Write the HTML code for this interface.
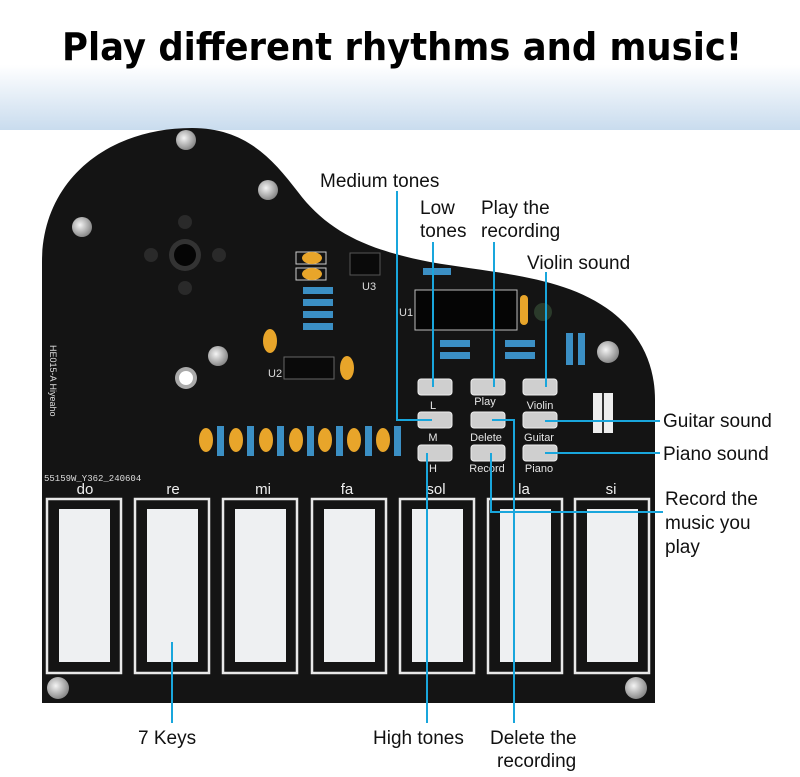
<!DOCTYPE html>
<html><head><meta charset="utf-8"><style>
html,body{margin:0;padding:0;}
body{width:800px;height:772px;overflow:hidden;background:#fff;font-family:"Liberation Sans",sans-serif;}
</style></head><body>
<svg width="800" height="772" viewBox="0 0 800 772" xmlns="http://www.w3.org/2000/svg" font-family="Liberation Sans, sans-serif">
<defs>
<linearGradient id="hg" x1="0" y1="0" x2="0" y2="1">
<stop offset="0" stop-color="#ffffff"/><stop offset="0.5" stop-color="#ffffff"/><stop offset="1" stop-color="#c9dcee"/>
</linearGradient>
<radialGradient id="scr" cx="0.4" cy="0.4" r="0.6"><stop offset="0" stop-color="#f4f4f4"/><stop offset="1" stop-color="#8a8a8a"/></radialGradient>
</defs>
<rect x="0" y="0" width="800" height="130" fill="url(#hg)"/>
<text x="62" y="60" textLength="680" lengthAdjust="spacingAndGlyphs" font-size="38" font-weight="bold" fill="#000" font-family="DejaVu Sans, sans-serif">Play different rhythms and music!</text>

<!-- board -->
<path d="M42,703 L42,262 C42,180 108,128 192,128 C245,128 272,158 298,192 C328,232 368,250 430,262 C500,274 565,276 612,312 C645,338 655,370 655,400 L655,703 Z" fill="#141414"/>

<!-- speaker -->
<circle cx="185" cy="255" r="16" fill="#333"/><circle cx="185" cy="255" r="11" fill="#050505"/>
<circle cx="185" cy="222" r="7" fill="#2a2a2a"/><circle cx="185" cy="288" r="7" fill="#2a2a2a"/>
<circle cx="151" cy="255" r="7" fill="#2a2a2a"/><circle cx="219" cy="255" r="7" fill="#2a2a2a"/>
<circle cx="186" cy="378" r="11" fill="#aaa"/><circle cx="186" cy="378" r="7" fill="#fff"/>

<!-- screws -->
<g fill="url(#scr)">
<circle cx="186" cy="140" r="10"/><circle cx="268" cy="190" r="10"/><circle cx="82" cy="227" r="10"/>
<circle cx="218" cy="356" r="10"/><circle cx="608" cy="352" r="11"/><circle cx="58" cy="688" r="11"/><circle cx="636" cy="688" r="11"/>
</g>

<text x="50" y="345" font-size="9" fill="#ddd" transform="rotate(90 50 345)" >HE015-A Hiyeaho</text>
<text x="44" y="481" font-size="9" fill="#ddd" font-family="Liberation Mono, monospace">55159W_Y362_240604</text>

<!-- U3 -->
<rect x="350" y="253" width="30" height="22" fill="#0a0a0a" stroke="#555"/>
<text x="362" y="290" font-size="11" fill="#ddd">U3</text>
<rect x="296" y="252" width="30" height="12" fill="none" stroke="#ccc"/><rect x="296" y="268" width="30" height="12" fill="none" stroke="#ccc"/>
<ellipse cx="312" cy="258" rx="10" ry="6" fill="#e8a52a"/><ellipse cx="312" cy="274" rx="10" ry="6" fill="#e8a52a"/>
<g fill="#3b8fc4"><rect x="303" y="287" width="30" height="7"/><rect x="303" y="299" width="30" height="7"/><rect x="303" y="311" width="30" height="7"/><rect x="303" y="323" width="30" height="7"/></g>
<ellipse cx="270" cy="341" rx="7" ry="12" fill="#e8a52a"/><ellipse cx="347" cy="368" rx="7" ry="12" fill="#e8a52a"/>
<rect x="284" y="357" width="50" height="22" fill="#0a0a0a" stroke="#666"/>
<text x="268" y="377" font-size="11" fill="#ddd">U2</text>
<g>
<g fill="#e8a52a"><ellipse cx="206" cy="440" rx="7" ry="12"/><ellipse cx="236" cy="440" rx="7" ry="12"/><ellipse cx="266" cy="440" rx="7" ry="12"/><ellipse cx="296" cy="440" rx="7" ry="12"/><ellipse cx="325" cy="440" rx="7" ry="12"/><ellipse cx="354" cy="440" rx="7" ry="12"/><ellipse cx="383" cy="440" rx="7" ry="12"/></g>
<g fill="#3b8fc4"><rect x="217" y="426" width="7" height="30"/><rect x="247" y="426" width="7" height="30"/><rect x="277" y="426" width="7" height="30"/><rect x="307" y="426" width="7" height="30"/><rect x="336" y="426" width="7" height="30"/><rect x="365" y="426" width="7" height="30"/><rect x="394" y="426" width="7" height="30"/></g>
</g>
<rect x="415" y="290" width="102" height="40" fill="#050505" stroke="#bbb"/>
<text x="399" y="316" font-size="11" fill="#ddd">U1</text>
<rect x="520" y="295" width="8" height="30" fill="#e8a52a" rx="4"/>
<circle cx="543" cy="312" r="9" fill="#2b3b2b"/>
<g fill="#3b8fc4"><rect x="423" y="268" width="28" height="7"/><rect x="440" y="340" width="30" height="7"/><rect x="440" y="352" width="30" height="7"/><rect x="505" y="340" width="30" height="7"/><rect x="505" y="352" width="30" height="7"/><rect x="566" y="333" width="7" height="32"/><rect x="578" y="333" width="7" height="32"/></g>
<rect x="593" y="393" width="20" height="40" fill="#eee"/><line x1="603" y1="393" x2="603" y2="433" stroke="#333" stroke-width="2"/>

<!-- buttons -->
<g fill="#cfcfcf" stroke="#eee" stroke-width="1">
<rect x="418" y="379" width="34" height="16" rx="3"/><rect x="471" y="379" width="34" height="16" rx="3"/><rect x="523" y="379" width="34" height="16" rx="3"/>
<rect x="418" y="412" width="34" height="16" rx="3"/><rect x="471" y="412" width="34" height="16" rx="3"/><rect x="523" y="412" width="34" height="16" rx="3"/>
<rect x="418" y="445" width="34" height="16" rx="3"/><rect x="471" y="445" width="34" height="16" rx="3"/><rect x="523" y="445" width="34" height="16" rx="3"/>
</g>
<g font-size="11" fill="#e6e6e6" text-anchor="middle">
<text x="433" y="409">L</text><text x="485" y="405">Play</text><text x="540" y="409">Violin</text>
<text x="433" y="441">M</text><text x="486" y="441">Delete</text><text x="539" y="441">Guitar</text>
<text x="433" y="472">H</text><text x="487" y="472">Record</text><text x="539" y="472">Piano</text>
</g>

<!-- keys -->
<g fill="none" stroke="#e8e8e8" stroke-width="2.5">
<rect x="47" y="499" width="74" height="174"/><rect x="135" y="499" width="74" height="174"/><rect x="223" y="499" width="74" height="174"/><rect x="312" y="499" width="74" height="174"/><rect x="400" y="499" width="74" height="174"/><rect x="488" y="499" width="74" height="174"/><rect x="575" y="499" width="74" height="174"/>
</g>
<g fill="#eef0f2">
<rect x="59" y="509" width="51" height="153"/><rect x="147" y="509" width="51" height="153"/><rect x="235" y="509" width="51" height="153"/><rect x="324" y="509" width="51" height="153"/><rect x="412" y="509" width="51" height="153"/><rect x="500" y="509" width="51" height="153"/><rect x="587" y="509" width="51" height="153"/>
</g>
<g font-size="15" fill="#eee" text-anchor="middle">
<text x="85" y="494">do</text><text x="173" y="494">re</text><text x="263" y="494">mi</text><text x="347" y="494">fa</text><text x="436" y="494">sol</text><text x="524" y="494">la</text><text x="611" y="494">si</text>
</g>

<!-- callout lines -->
<g stroke="#19a6dc" stroke-width="2" fill="none">
<polyline points="397,191 397,420 432,420"/>
<line x1="433" y1="242" x2="433" y2="387"/>
<line x1="494" y1="242" x2="494" y2="387"/>
<line x1="546" y1="272" x2="546" y2="387"/>
<line x1="545" y1="421" x2="660" y2="421"/>
<line x1="545" y1="453" x2="660" y2="453"/>
<polyline points="492,420 514,420 514,723"/>
<polyline points="491,453 491,512 663,512"/>
<line x1="172" y1="642" x2="172" y2="723"/>
<line x1="427" y1="453" x2="427" y2="723"/>
</g>

<!-- labels -->
<g font-size="19" fill="#111">
<text x="320" y="187">Medium tones</text>
<text x="420" y="214">Low</text><text x="420" y="237">tones</text>
<text x="481" y="214">Play the</text><text x="481" y="237">recording</text>
<text x="527" y="269">Violin sound</text>
<text x="663" y="427">Guitar sound</text>
<text x="663" y="460">Piano sound</text>
<text x="665" y="505">Record the</text><text x="665" y="529">music you</text><text x="665" y="553">play</text>
<text x="138" y="744">7 Keys</text>
<text x="373" y="744">High tones</text>
<text x="490" y="744">Delete the</text><text x="497" y="767">recording</text>
</g>
</svg>
</body></html>
